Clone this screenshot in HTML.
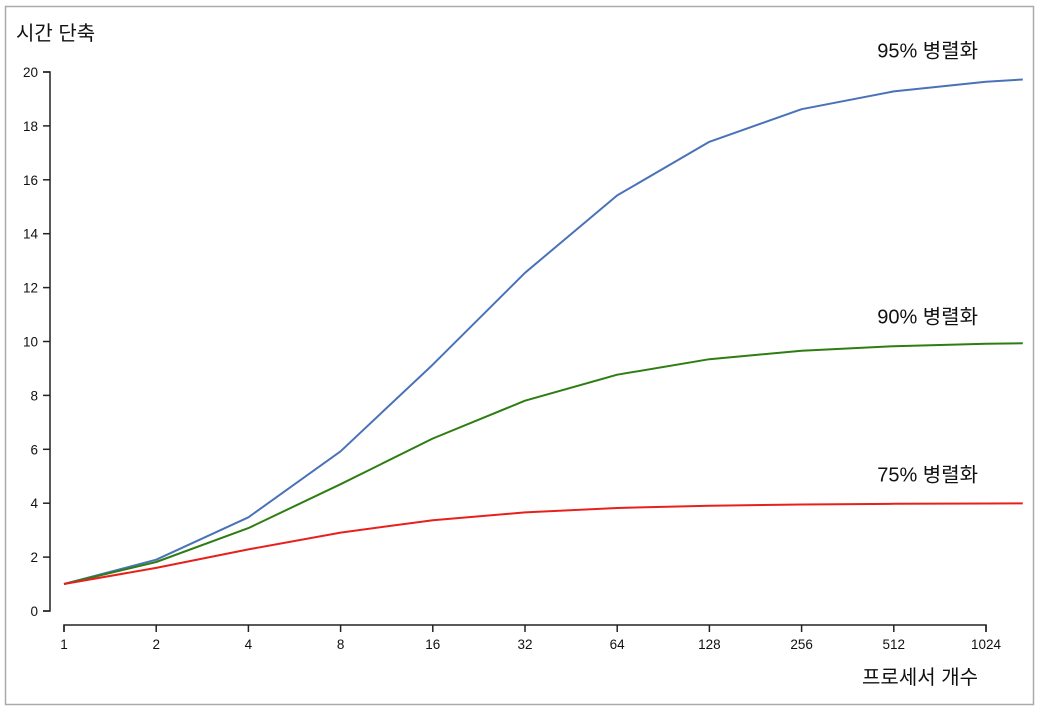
<!DOCTYPE html>
<html><head><meta charset="utf-8"><style>
html,body{margin:0;padding:0;background:#fff;width:1042px;height:712px;overflow:hidden}
svg{display:block}
text{font-family:"Liberation Sans","Noto Sans CJK KR",sans-serif;fill:#111}
</style></head><body>
<svg id="chart" width="1042" height="712">
<rect x="5.5" y="6.5" width="1028" height="698" fill="#fff" stroke="#aaa" stroke-width="1.5"/>
<text x="16" y="40" font-size="20">시간 단축</text>
<text x="978" y="684" font-size="20" text-anchor="end">프로세서 개수</text>
<g id="axes"></g>
<g id="series"></g>
</svg>
<script>
const xTicks = [1,2,4,8,16,32,64,128,256,512,1024];
const yTicks = [0,2,4,6,8,10,12,14,16,18,20];
const procs = [1,2,4,8,16,32,64,128,256,512,1024,1350];
const s95 = [1,1.905,3.478,5.926,9.143,12.549,15.42,17.41,18.62,19.28,19.64,19.72];
const s90 = [1,1.818,3.077,4.706,6.4,7.805,8.767,9.343,9.66,9.827,9.913,9.934];
const s75 = [1,1.6,2.286,2.909,3.368,3.657,3.821,3.908,3.953,3.977,3.988,3.991];
const seriesLabels = ["95% 병렬화","90% 병렬화","75% 병렬화"];

const NS="http://www.w3.org/2000/svg";
const xs = v => 64 + Math.log2(v)*92.2;
const ys = v => 611 - v*26.95;
const axes=document.getElementById('axes');
const ser=document.getElementById('series');
function mk(tag,attrs,parent){const e=document.createElementNS(NS,tag);for(const k in attrs)e.setAttribute(k,attrs[k]);parent.appendChild(e);return e;}

let ya=mk('path',{d:`M43,${ys(20)}H50V${ys(0)}H43`,fill:'none',stroke:'#222','stroke-width':1.5},axes);


yTicks.forEach(t=>{
  const l=mk('line',{x1:43,x2:50,y1:ys(t),y2:ys(t),stroke:'#222','stroke-width':1.5},axes);
  
  
  const tx=mk('text',{x:38,y:ys(t)+5,'font-size':13.5,'text-anchor':'end'},axes);
  tx.textContent=t;
  
  
});
let xa=mk('path',{d:`M${xs(1)},632V625H${xs(1024)}V632`,fill:'none',stroke:'#222','stroke-width':1.5},axes);


xTicks.forEach(t=>{
  const l=mk('line',{x1:xs(t),x2:xs(t),y1:625,y2:632,stroke:'#222','stroke-width':1.5},axes);
  
  
  const tx=mk('text',{x:xs(t),y:649,'font-size':13.5,'text-anchor':'middle'},axes);
  tx.textContent=t;
  
  
});
const all=[[s95,'#4a72b8','line-95'],[s90,'#2e7d12','line-90'],[s75,'#e8201c','line-75']];
const labelY=[ys(s95[11])-22, ys(s90[11])-20, ys(s75[11])-22];
all.forEach((s,i)=>{
  const d=s[0].map((v,j)=>(j?'L':'M')+xs(procs[j]).toFixed(1)+','+ys(v).toFixed(1)).join('');
  const p=mk('path',{d:d,fill:'none',stroke:s[1],'stroke-width':2,'stroke-linejoin':'round'},ser);
  
  
  const t=mk('text',{x:978,y:labelY[i],'font-size':20,'text-anchor':'end'},ser);
  t.textContent=seriesLabels[i];
  
  
});
</script>
</body></html>
